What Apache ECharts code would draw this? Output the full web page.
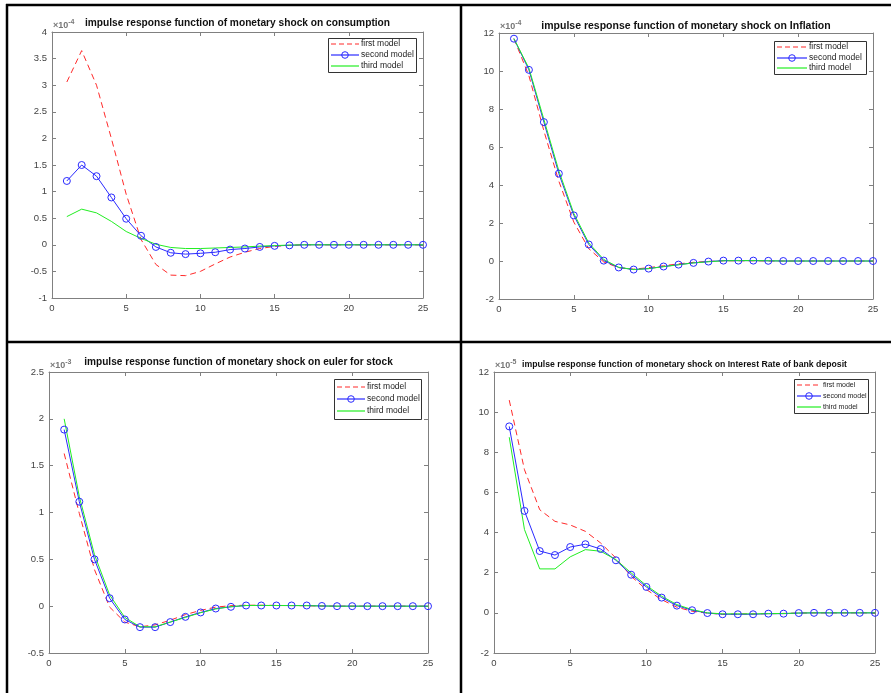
<!DOCTYPE html>
<html>
<head>
<meta charset="utf-8">
<title>impulse response functions</title>
<script src="https://cdn.jsdelivr.net/npm/echarts@6/dist/echarts.min.js"></script>
<style>
html, body { margin: 0; padding: 0; background: #fff; }
#irf { width: 891px; height: 693px; }
</style>
</head>
<body>
<div id="irf"></div>
<script>
// periods 1..25 on the x axis
const periods = [1, 2, 3, 4, 5, 6, 7, 8, 9, 10, 11, 12, 13, 14, 15, 16, 17, 18, 19, 20, 21, 22, 23, 24, 25];
const modelNames = ['first model', 'second model', 'third model'];

// consumption, x 10^-4
const consFirst = [3.06, 3.65, 3.0, 2.0, 0.95, 0.1, -0.37, -0.57, -0.58, -0.5, -0.36, -0.23, -0.14, -0.07, -0.03, -0.01, 0, 0, 0, 0, 0, 0, 0, 0, 0];
const consSecond = [1.2, 1.5, 1.29, 0.89, 0.49, 0.17, -0.04, -0.15, -0.175, -0.16, -0.14, -0.09, -0.07, -0.04, -0.02, -0.01, 0, 0, 0, 0, 0, 0, 0, 0, 0];
const consThird = [0.53, 0.67, 0.6, 0.44, 0.25, 0.12, 0.01, -0.05, -0.07, -0.07, -0.06, -0.05, -0.04, -0.025, -0.015, -0.005, 0, 0, 0, 0, 0, 0, 0, 0, 0];

// inflation, x 10^-4
const inflFirst = [11.7, 9.75, 6.85, 4.2, 2.05, 0.65, -0.05, -0.35, -0.43, -0.35, -0.25, -0.15, -0.07, -0.02, 0.01, 0.01, 0.01, 0, 0, 0, 0, 0, 0, 0, 0];
const inflSecond = [11.7, 10.06, 7.31, 4.6, 2.4, 0.87, 0.02, -0.34, -0.45, -0.4, -0.29, -0.19, -0.1, -0.03, 0.02, 0.02, 0.02, 0.01, 0, 0, 0, 0, 0, 0, 0];
const inflThird = [11.7, 10.15, 7.45, 4.75, 2.5, 0.95, 0.08, -0.33, -0.45, -0.4, -0.3, -0.2, -0.1, -0.04, 0.01, 0.02, 0.02, 0.01, 0, 0, 0, 0, 0, 0, 0];

// euler for stock, x 10^-3
const eulerFirst = [1.63, 0.99, 0.39, -0.01, -0.17, -0.22, -0.2, -0.15, -0.09, -0.045, -0.01, 0.005, 0.01, 0.01, 0.008, 0.006, 0.004, 0.002, 0, 0, 0, 0, 0, 0, 0];
const eulerSecond = [1.885, 1.115, 0.5, 0.085, -0.142, -0.224, -0.224, -0.17, -0.114, -0.067, -0.025, -0.007, 0.007, 0.007, 0.007, 0.007, 0.007, 0.002, 0, 0, 0, 0, 0, 0, 0];
const eulerThird = [2.0, 1.17, 0.55, 0.12, -0.12, -0.22, -0.22, -0.17, -0.12, -0.07, -0.03, -0.005, 0.007, 0.008, 0.007, 0.006, 0.005, 0.002, 0, 0, 0, 0, 0, 0, 0];

// interest rate of bank deposit, x 10^-5
const rateFirst = [10.6, 7.13, 5.14, 4.56, 4.38, 4.06, 3.48, 2.73, 1.82, 1.16, 0.66, 0.28, 0.08, -0.01, -0.07, -0.06, -0.05, -0.04, -0.03, -0.01, 0, 0, 0, 0, 0];
const rateSecond = [9.29, 5.08, 3.08, 2.88, 3.28, 3.42, 3.18, 2.62, 1.9, 1.29, 0.76, 0.36, 0.13, -0.01, -0.07, -0.07, -0.07, -0.04, -0.04, -0.01, 0, 0, 0, 0, 0];
const rateThird = [8.75, 4.15, 2.19, 2.19, 2.79, 3.15, 3.07, 2.65, 1.99, 1.36, 0.83, 0.41, 0.16, 0, -0.05, -0.05, -0.05, -0.04, -0.03, -0.01, 0, 0, 0, 0, 0];

const titles = [
    'impulse response function of monetary shock on consumption',
    'impulse response function of monetary shock on Inflation',
    'impulse response function of monetary shock on euler for stock',
    'impulse response function of monetary shock on Interest Rate of bank deposit'
];
const exponents = ['-4', '-4', '-3', '-5'];
const yRanges = [[-1, 4, 0.5], [-2, 12, 2], [-0.5, 2.5, 0.5], [-2, 12, 2]];
const xRange = [0, 25, 5];

// layout of the four panels (pixels); leg = legend box [left, top, width, height, row step, icon width, font size]
const panels = [
    { grid: { left: 52, top: 32, width: 371, height: 266 }, titleTop: 18, titleSize: 10.2, leg: [328, 38, 88, 34, 10.8, 28, 8.5] },
    { grid: { left: 499, top: 33, width: 374, height: 266 }, titleTop: 21, titleSize: 10.5, leg: [774, 41, 92, 33, 10.7, 30, 8.5] },
    { grid: { left: 49, top: 372, width: 379, height: 281 }, titleTop: 357, titleSize: 10.1, leg: [334, 379, 87, 40, 12.3, 28, 8.5] },
    { grid: { left: 494, top: 372, width: 381, height: 281 }, titleTop: 360, titleSize: 8.7, leg: [794, 379, 74, 34, 10.8, 24, 7] }
];
const seriesData = [
    [consFirst, consSecond, consThird],
    [inflFirst, inflSecond, inflThird],
    [eulerFirst, eulerSecond, eulerThird],
    [rateFirst, rateSecond, rateThird]
];

const axisGrey = '#808080';
const labelGrey = '#444';
const fontFam = 'Liberation Sans, Arial, sans-serif';
const lineColors = ['#ff2a2a', '#2a2aff', '#22ee22'];

let chartDom = document.getElementById('irf');
let myChart = echarts.init(chartDom, null, { renderer: 'canvas' });

let grid = [], xAxis = [], yAxis = [], title = [], series = [], graphic = [];

// MATLAB-like legend box drawn as a graphic group
function legendBox(leg) {
    const [L, T, W, H, step, iconW, fs] = leg;
    const kids = [{ type: 'rect', shape: { x: L + 0.5, y: T + 0.5, width: W, height: H }, style: { fill: '#fff', stroke: '#333', lineWidth: 1 } }];
    const first = T + (H - 2 * step) / 2;
    modelNames.forEach(function (name, r) {
        const y = Math.round(first + r * step);
        const x0 = L + 3, x1 = L + 3 + iconW;
        kids.push({
            type: 'line', shape: { x1: x0, y1: y, x2: x1, y2: y },
            style: { stroke: lineColors[r], lineWidth: 1.2, lineDash: r === 0 ? [5, 3] : null }
        });
        if (r === 1) {
            kids.push({ type: 'circle', shape: { cx: (x0 + x1) / 2, cy: y, r: 3.3 }, style: { fill: 'none', stroke: lineColors[1], lineWidth: 1 } });
        }
        kids.push({
            type: 'text', x: x1 + 2, y: y,
            style: { text: name, fill: '#222', fontSize: fs, fontFamily: fontFam, verticalAlign: 'middle', align: 'left' }
        });
    });
    return { type: 'group', z: 10, children: kids };
}

panels.forEach(function (p, i) {
    grid.push(Object.assign({ show: false, containLabel: false }, p.grid));

    const tick = { inside: true, length: 4, lineStyle: { color: axisGrey, width: 1 } };
    const line = { show: true, onZero: false, lineStyle: { color: axisGrey, width: 1 } };
    const label = { fontSize: 9.5, color: labelGrey, fontFamily: fontFam, margin: 5 };

    xAxis.push({
        type: 'value', gridIndex: i, position: 'bottom',
        min: xRange[0], max: xRange[1], interval: xRange[2],
        axisLine: line, axisTick: tick, axisLabel: label, splitLine: { show: false }
    });
    xAxis.push({
        type: 'value', gridIndex: i, position: 'top',
        min: xRange[0], max: xRange[1], interval: xRange[2],
        axisLine: line, axisTick: tick, axisLabel: { show: false }, splitLine: { show: false }
    });
    yAxis.push({
        type: 'value', gridIndex: i, position: 'left',
        min: yRanges[i][0], max: yRanges[i][1], interval: yRanges[i][2],
        axisLine: line, axisTick: tick, axisLabel: label, splitLine: { show: false }
    });
    yAxis.push({
        type: 'value', gridIndex: i, position: 'right',
        min: yRanges[i][0], max: yRanges[i][1], interval: yRanges[i][2],
        axisLine: line, axisTick: tick, axisLabel: { show: false }, splitLine: { show: false }
    });

    // panel title, centred over the plot box
    title.push({
        text: titles[i],
        left: p.grid.left + p.grid.width / 2,
        top: p.titleTop,
        textAlign: 'center',
        padding: 0,
        textStyle: { fontSize: p.titleSize, fontWeight: 'bold', color: '#111', fontFamily: fontFam }
    });
    // exponent marker (x10^n) at top-left of the box
    title.push({
        text: '{a|\u00d710}{b|' + exponents[i] + '}',
        left: p.grid.left + 1,
        top: p.grid.top - 13,
        padding: 0,
        textStyle: {
            rich: {
                a: { fontSize: 9, color: '#777', fontFamily: fontFam },
                b: { fontSize: 7, color: '#777', fontFamily: fontFam, padding: [0, 0, 6, 0] }
            }
        }
    });

    graphic.push(legendBox(p.leg));

    const d = seriesData[i];
    series.push({
        name: modelNames[0], type: 'line', xAxisIndex: 2 * i, yAxisIndex: 2 * i,
        data: periods.map(function (t, k) { return [t, d[0][k]]; }),
        symbol: 'none', silent: true,
        lineStyle: { color: lineColors[0], width: 1, type: [6, 4] },
        itemStyle: { color: lineColors[0] }
    });
    series.push({
        name: modelNames[1], type: 'line', xAxisIndex: 2 * i, yAxisIndex: 2 * i,
        data: periods.map(function (t, k) { return [t, d[1][k]]; }),
        symbol: 'circle', symbolSize: 7, showSymbol: true, silent: true,
        lineStyle: { color: lineColors[1], width: 1 },
        itemStyle: { color: 'rgba(0,0,0,0)', borderColor: lineColors[1], borderWidth: 1 }
    });
    series.push({
        name: modelNames[2], type: 'line', xAxisIndex: 2 * i, yAxisIndex: 2 * i,
        data: periods.map(function (t, k) { return [t, d[2][k]]; }),
        symbol: 'none', silent: true,
        lineStyle: { color: lineColors[2], width: 1 },
        itemStyle: { color: lineColors[2] }
    });
});

// black frame lines that split the figure into four cells
const frame = { stroke: '#000', lineWidth: 2.5 };
graphic.push(
    { type: 'line', shape: { x1: 6, y1: 5, x2: 891, y2: 5 }, style: frame },
    { type: 'line', shape: { x1: 7, y1: 4, x2: 7, y2: 693 }, style: frame },
    { type: 'line', shape: { x1: 461, y1: 4, x2: 461, y2: 693 }, style: frame },
    { type: 'line', shape: { x1: 6, y1: 342, x2: 891, y2: 342 }, style: frame }
);

let option = {
    animation: false,
    backgroundColor: '#fff',
    title: title,
    grid: grid,
    xAxis: xAxis,
    yAxis: yAxis,
    series: series,
    graphic: graphic
};

option && myChart.setOption(option);
</script>
</body>
</html>
